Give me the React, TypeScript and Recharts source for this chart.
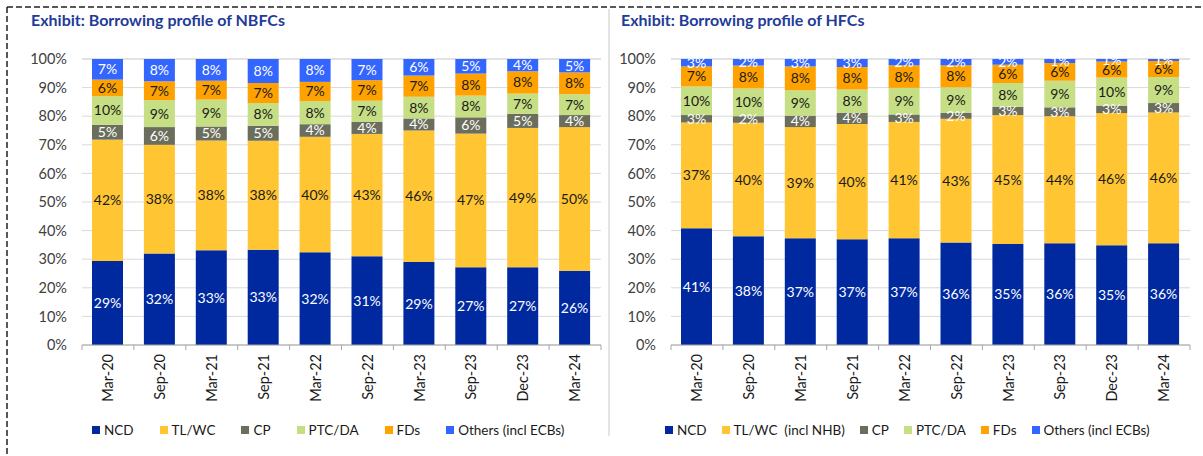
import { BarChart, Bar, XAxis, YAxis, CartesianGrid, LabelList } from "recharts";

const categories = ["Mar-20", "Sep-20", "Mar-21", "Sep-21", "Mar-22", "Sep-22", "Mar-23", "Sep-23", "Dec-23", "Mar-24"];
const yTicks = [0, 10, 20, 30, 40, 50, 60, 70, 80, 90, 100];

// NBFCs, share of borrowings (%)
const nbfcNcd = [29.4, 32.0, 33.1, 33.3, 32.4, 31.0, 29.0, 27.2, 27.2, 26.0];
const nbfcTl = [42.4, 38.0, 38.4, 38.1, 40.4, 42.8, 46.0, 46.7, 48.7, 50.2];
const nbfcCp = [5.2, 6.2, 4.9, 5.3, 4.4, 4.2, 4.2, 5.7, 4.9, 4.2];
const nbfcPtc = [10.0, 9.4, 9.4, 7.9, 8.1, 7.4, 7.6, 7.6, 7.1, 7.3];
const nbfcFds = [5.8, 6.6, 6.6, 7.0, 6.7, 7.2, 7.4, 7.7, 7.8, 7.6];
const nbfcOthers = [7.2, 7.8, 7.6, 8.4, 8.0, 7.4, 5.8, 5.1, 4.3, 4.7];

// HFCs, share of borrowings (%)
const hfcNcd = [40.8, 38.0, 37.3, 37.0, 37.3, 35.8, 35.3, 35.6, 34.9, 35.6];
const hfcTl = [37.0, 39.7, 38.9, 40.3, 40.7, 43.3, 45.1, 44.4, 46.2, 45.7];
const hfcCp = [2.6, 2.3, 4.0, 3.9, 2.6, 2.1, 2.9, 3.1, 2.6, 3.3];
const hfcPtc = [10.0, 9.7, 8.9, 8.1, 9.3, 8.9, 8.3, 9.3, 9.8, 9.1];
const hfcFds = [7.0, 8.0, 8.3, 7.9, 7.9, 7.7, 6.4, 6.2, 5.6, 5.6];
const hfcOthers = [2.6, 2.3, 2.6, 2.8, 2.2, 2.2, 2.0, 1.4, 0.9, 0.7];

const nbfcNames = ["NCD", "TL/WC", "CP", "PTC/DA", "FDs", "Others (incl ECBs)"];
const hfcNames = ["NCD", "TL/WC  (incl NHB)", "CP", "PTC/DA", "FDs", "Others (incl ECBs)"];

const keys = ["ncd", "tl", "cp", "ptc", "fds", "others"];
const colors = ["#0029A0", "#FFC533", "#6B6E5C", "#C6DE84", "#FFA200", "#3366FF"];
const labelColors = ["#ffffff", "#1a1a1a", "#ffffff", "#1a1a1a", "#1a1a1a", "#ffffff"];

const FONT = 'Lato, "Open Sans", sans-serif';
const CHART_W = 611;
const CHART_H = 456;
const Y_W = 60;
const MARGIN = { top: 59, right: 10, left: 22, bottom: 51 };

const build = (series: number[][]) =>
  categories.map((c, i) => {
    const row: Record<string, string | number> = { cat: c };
    keys.forEach((k, j) => (row[k] = series[j][i]));
    return row;
  });

const nbfcData = build([nbfcNcd, nbfcTl, nbfcCp, nbfcPtc, nbfcFds, nbfcOthers]);
const hfcData = build([hfcNcd, hfcTl, hfcCp, hfcPtc, hfcFds, hfcOthers]);

const band = (CHART_W - MARGIN.left - MARGIN.right - Y_W) / categories.length;

function CatTick(props: any) {
  const { x, y, payload, index } = props;
  const axisY = y - 9;
  const left = x - band / 2;
  return (
    <g>
      <line x1={left} x2={left} y1={axisY} y2={axisY + 5} stroke="#a6a6a6" />
      {index === categories.length - 1 && (
        <line x1={x + band / 2} x2={x + band / 2} y1={axisY} y2={axisY + 5} stroke="#a6a6a6" />
      )}
      <text
        x={x}
        y={y}
        transform={`rotate(-90, ${x}, ${y})`}
        textAnchor="end"
        dy="0.36em"
        fontSize={14.5}
        fontFamily={FONT}
        fill="#1a1a1a"
      >
        {payload.value}
      </text>
    </g>
  );
}

function Panel({ data }: { data: Array<Record<string, string | number>> }) {
  return (
    <BarChart width={CHART_W} height={CHART_H} data={data} margin={MARGIN}>
      <CartesianGrid vertical={false} stroke="#d9d9d9" />
      <XAxis
        dataKey="cat"
        interval={0}
        tickLine={false}
        tickSize={5}
        tickMargin={4}
        height={60}
        axisLine={{ stroke: "#a6a6a6" }}
        tick={<CatTick />}
      />
      <YAxis
        width={Y_W}
        domain={[0, 100]}
        ticks={yTicks}
        tickFormatter={(v) => `${v}%`}
        axisLine={false}
        tickLine={false}
        tickMargin={9}
        tick={{ fontSize: 14.5, fill: "#404040", fontFamily: FONT }}
      />
      {keys.map((k, j) => (
        <Bar key={k} dataKey={k} stackId="a" fill={colors[j]} barSize={31} isAnimationActive={false}>
          <LabelList
            dataKey={k}
            position="center"
            formatter={(v: any) => `${Math.round(Number(v))}%`}
            fill={labelColors[j]}
            fontSize={14}
            fontFamily={FONT}
          />
        </Bar>
      ))}
    </BarChart>
  );
}

function LegendRow({ names, left, gap }: { names: string[]; left: number; gap: number }) {
  return (
    <div
      style={{
        position: "absolute",
        left,
        top: 422,
        display: "flex",
        gap,
        fontFamily: FONT,
        fontSize: 13.5,
        color: "#1a1a1a",
        whiteSpace: "pre",
      }}
    >
      {names.map((n, j) => (
        <div key={n} style={{ display: "flex", alignItems: "center", gap: 4 }}>
          <span style={{ width: 8, height: 8, background: colors[j], display: "inline-block" }} />
          <span>{n}</span>
        </div>
      ))}
    </div>
  );
}

const titleStyle = {
  position: "absolute" as const,
  top: 10,
  fontFamily: FONT,
  fontWeight: 700,
  fontSize: 16,
  color: "#1F3C98",
};

export default function App() {
  return (
    <div style={{ position: "relative", width: 1203, height: 456, background: "#fff", overflow: "hidden" }}>
      <style>{"body{margin:0}"}</style>
      <svg width={1203} height={456} style={{ position: "absolute", left: 0, top: 0 }}>
        <line x1={7} x2={1203} y1={7} y2={7} stroke="#222" strokeWidth={1.5} strokeDasharray="6 3" />
        <line x1={7} x2={7} y1={7} y2={456} stroke="#222" strokeWidth={1.5} strokeDasharray="6 3" />
        <line x1={609} x2={609} y1={9} y2={436} stroke="#c8c8c8" strokeWidth={1} />
      </svg>
      <div style={{ ...titleStyle, left: 31 }}>Exhibit: Borrowing profile of NBFCs</div>
      <div style={{ ...titleStyle, left: 621 }}>Exhibit: Borrowing profile of HFCs</div>
      <div style={{ position: "absolute", left: 0, top: 0 }}>
        <Panel data={nbfcData} />
      </div>
      <div style={{ position: "absolute", left: 589, top: 0 }}>
        <Panel data={hfcData} />
      </div>
      <LegendRow names={nbfcNames} left={92} gap={26} />
      <LegendRow names={hfcNames} left={665} gap={15} />
    </div>
  );
}
